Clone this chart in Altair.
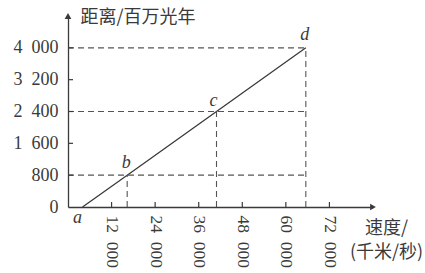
import altair as alt
import pandas as pd

labels = ["a", "b", "c", "d"]
speeds = [4000, 16300, 40900, 65500]
distances = [0, 800, 2400, 4000]
x_ticks = [12000, 24000, 36000, 48000, 60000, 72000]
y_ticks = [0, 800, 1600, 2400, 3200, 4000]
x_title = ["速度/", "(千米/秒)"]
y_title = "距离/百万光年"

X_MAX, Y_MAX = 84000, 4800
W, H = 305, 191
INK = "#3a3a3a"
SERIF = "Liberation Serif"
CJK = "Noto Sans CJK SC"

pts = pd.DataFrame({"label": labels, "speed": speeds, "dist": distances})
guides = pts[pts["label"] != "a"].copy()
guides["x0"] = 0
guides["xd"] = speeds[-1]
guides["y0"] = 0

xticks_df = pd.DataFrame({"v": x_ticks})
yticks_df = pd.DataFrame({"v": [v for v in y_ticks if v > 0]})
arrows_df = pd.DataFrame({"x": [X_MAX, 0], "y": [0, Y_MAX], "shape": ["triangle-right", "triangle-up"]})

xs = alt.Scale(domain=[0, X_MAX], nice=False, zero=True)
ys = alt.Scale(domain=[0, Y_MAX], nice=False, zero=True)

label_expr = "datum.value == 0 ? '0' : replace(format(datum.value, ','), ',', '\u2002')"

x_axis = alt.Axis(values=x_ticks, labelExpr=label_expr, labelAngle=90,
                  labelFont=SERIF, labelFontSize=17.5, labelColor=INK,
                  labelPadding=8, ticks=False, domain=True, domainColor=INK,
                  domainWidth=1.3, grid=False,
                  title=x_title, titleFont=CJK, titleFontSize=18,
                  titleFontWeight="normal", titleColor=INK,
                  titleAlign="center", titleBaseline="top",
                  titleX=318, titleY=12, titleLineHeight=24, labelFlush=False)
y_axis = alt.Axis(values=y_ticks, labelExpr=label_expr,
                  labelFont=SERIF, labelFontSize=18, labelColor=INK,
                  labelPadding=10, ticks=False, domain=True, domainColor=INK,
                  domainWidth=1.3, grid=False,
                  title=y_title, titleFont=CJK, titleFontSize=18,
                  titleFontWeight="normal", titleColor=INK, titleAngle=0,
                  titleAlign="left", titleBaseline="middle",
                  titleX=12, titleY=1, labelFlush=False)

line = alt.Chart(pts).mark_line(color=INK, strokeWidth=1.3).encode(
    x=alt.X("speed:Q", scale=xs, axis=x_axis),
    y=alt.Y("dist:Q", scale=ys, axis=y_axis),
)

dash = dict(color="#555555", strokeWidth=1.1, strokeDash=[6, 4])

hdash = alt.Chart(guides).mark_rule(**dash).encode(
    x=alt.X("x0:Q", scale=xs, axis=x_axis), x2="xd:Q",
    y=alt.Y("dist:Q", scale=ys, axis=y_axis),
)
vdash = alt.Chart(guides).mark_rule(**dash).encode(
    x=alt.X("speed:Q", scale=xs, axis=x_axis),
    y=alt.Y("y0:Q", scale=ys, axis=y_axis), y2="dist:Q",
)

xtick = alt.Chart(xticks_df).mark_rule(color=INK, strokeWidth=1.2).encode(
    x=alt.X("v:Q", scale=xs, axis=x_axis), y=alt.value(H), y2=alt.value(H - 5)
)
ytick = alt.Chart(yticks_df).mark_rule(color=INK, strokeWidth=1.2).encode(
    y=alt.Y("v:Q", scale=ys, axis=y_axis), x=alt.value(0), x2=alt.value(5)
)

arrows = alt.Chart(arrows_df).mark_point(filled=True, color=INK, opacity=1, size=45).encode(
    x=alt.X("x:Q", scale=xs, axis=x_axis), y=alt.Y("y:Q", scale=ys, axis=y_axis),
    shape=alt.Shape("shape:N", scale=None, legend=None),
)

def ptlabel(name, dx, dy):
    return alt.Chart(pts).transform_filter(alt.datum.label == name).mark_text(
        font=SERIF, fontStyle="italic", fontSize=18, color=INK, dx=dx, dy=dy
    ).encode(
        x=alt.X("speed:Q", scale=xs, axis=x_axis),
        y=alt.Y("dist:Q", scale=ys, axis=y_axis),
        text="label:N",
    )

chart = alt.layer(
    line, hdash, vdash, xtick, ytick, arrows,
    ptlabel("a", -5, 11), ptlabel("b", -1, -12), ptlabel("c", -3, -11), ptlabel("d", -1, -13),
).properties(
    width=W, height=H,
    padding={"left": 68, "top": 16, "right": 52, "bottom": 66},
    autosize=alt.AutoSizeParams(type="none"),
    background="white",
).configure_view(stroke=None)

chart.save("out.html", embed_options={"renderer": "svg", "actions": False})
